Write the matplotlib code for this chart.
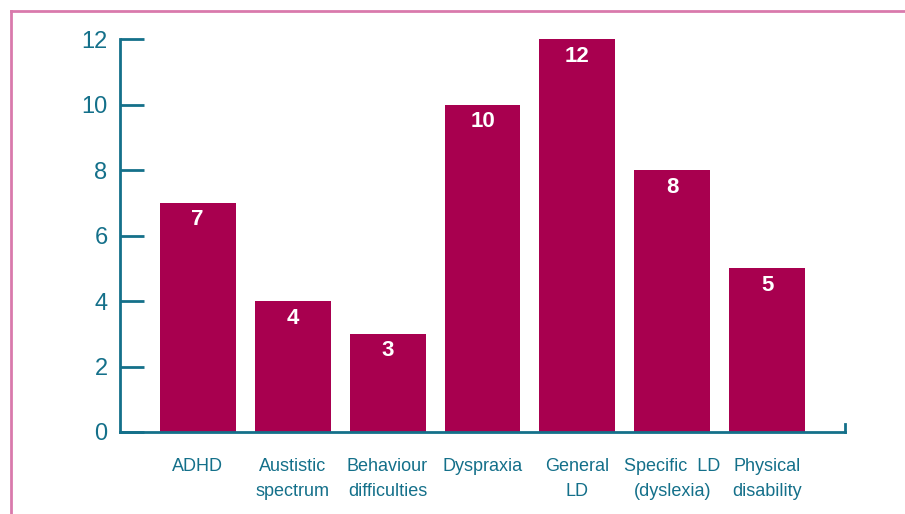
import matplotlib
matplotlib.use("Agg")
import matplotlib.pyplot as plt
from matplotlib.lines import Line2D

categories = ['ADHD', 'Austistic\nspectrum', 'Behaviour\ndifficulties', 'Dyspraxia',
              'General\nLD', 'Specific  LD\n(dyslexia)', 'Physical\ndisability']
values = [7, 4, 3, 10, 12, 8, 5]
yticks = [0, 2, 4, 6, 8, 10, 12]

bar_color = '#a8004f'
axis_color = '#14708a'
frame_color = '#d97aac'

plt.rcParams['font.family'] = ['Liberation Sans', 'DejaVu Sans']

fig = plt.figure(figsize=(9.05, 5.14), dpi=100)
ax = fig.add_axes([120 / 905, 82 / 514, 725 / 905, 393 / 514])

x = list(range(len(values)))
ax.bar(x, values, width=0.8, color=bar_color)

for xi, v in zip(x, values):
    ax.text(xi, v - 0.52, str(v), ha='center', va='center', color='white',
            fontsize=16, fontweight='bold')

ax.set_xlim(-0.816, 6.816)
ax.set_ylim(0, 12)
ax.set_yticks(yticks)
ax.set_xticks(x)
ax.set_xticklabels(categories, fontsize=13, color=axis_color, linespacing=1.6)

for s in ['top', 'right']:
    ax.spines[s].set_visible(False)
for s in ['left', 'bottom']:
    ax.spines[s].set_color(axis_color)
    ax.spines[s].set_linewidth(2)

ax.tick_params(axis='y', direction='in', length=17, width=2, color=axis_color,
               labelcolor=axis_color, labelsize=17, pad=9)
ax.tick_params(axis='x', length=0, pad=19)

# small end tick at the right of the x axis
ax.plot([6.816, 6.816], [0, 0.25], color=axis_color, lw=2, clip_on=False)

# pink frame round the figure (top and left edges)
fig.add_artist(Line2D([11 / 905, 11 / 905], [0, 1 - 11 / 514], color=frame_color, lw=2))
fig.add_artist(Line2D([11 / 905, 1], [1 - 11 / 514, 1 - 11 / 514], color=frame_color, lw=2))

fig.savefig('out.png', dpi=100)
